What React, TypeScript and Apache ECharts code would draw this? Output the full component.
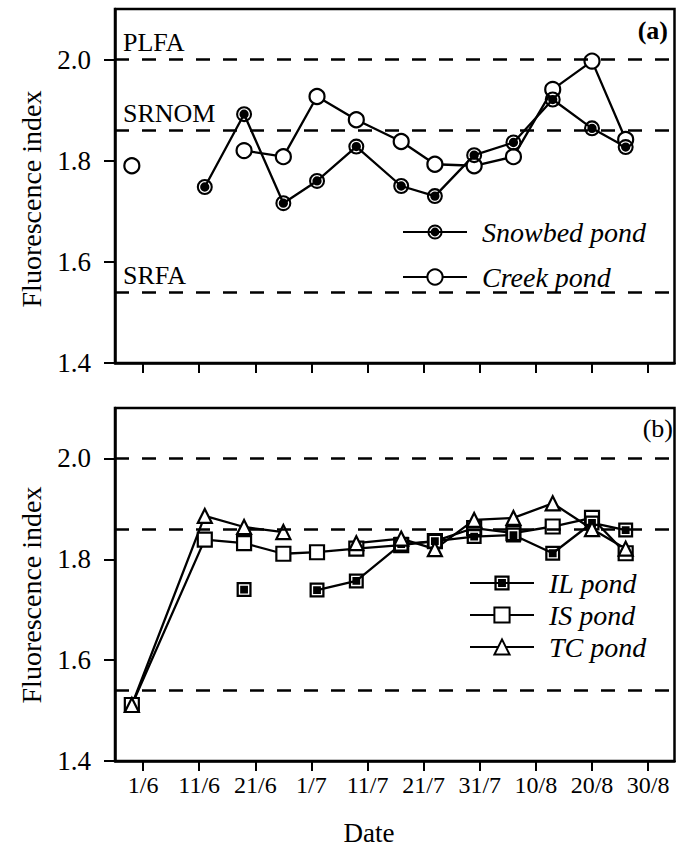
import React, { useEffect, useRef } from 'react';
import * as echarts from 'echarts';

// ---- data ----
const tickLabels = ['1/6', '11/6', '21/6', '1/7', '11/7', '21/7', '31/7', '10/8', '20/8', '30/8'];
const sampleDates = ['30/5', '12/6', '19/6', '26/6', '2/7', '9/7', '17/7', '23/7', '30/7', '6/8', '13/8', '20/8', '26/8'];
const snowbedPond = [null, 1.748, 1.892, 1.716, 1.76, 1.828, 1.75, 1.73, 1.811, 1.836, 1.921, 1.864, 1.827];
const creekPond = [1.79, null, 1.82, 1.808, 1.927, 1.881, 1.838, 1.793, 1.79, 1.808, 1.941, 1.997, 1.842];
const ilPond = [null, null, 1.74, null, 1.739, 1.757, 1.83, 1.836, 1.845, 1.848, 1.812, 1.872, 1.858];
const isPond = [1.511, 1.839, 1.832, 1.811, 1.814, 1.821, 1.828, 1.836, 1.862, 1.852, 1.865, 1.882, 1.812];
const tcPond = [1.511, 1.886, 1.864, 1.854, null, 1.832, 1.841, 1.82, 1.878, 1.882, 1.911, 1.86, 1.821];
const refValues = [2.0, 1.86, 1.54];
const refNames = ['PLFA', 'SRNOM', 'SRFA'];
const yTicks = [1.4, 1.6, 1.8, 2.0];

// days since 1 June
const monthStart: Record<number, number> = { 5: -31, 6: 0, 7: 30, 8: 61, 9: 92 };
const dayOf = (s: string) => {
  const [d, m] = s.split('/').map(Number);
  return monthStart[m] + d - 1;
};
const tickDays = tickLabels.map(dayOf);
const pairs = (vals: (number | null)[]) => sampleDates.map((d, i) => [dayOf(d), vals[i] === null ? '-' : vals[i]]);

const FONT = '"Liberation Serif", "DejaVu Serif", serif';
const ringDot =
  'path://M0,10A10,10,0,1,1,20,10A10,10,0,1,1,0,10ZM2.6,10A7.4,7.4,0,1,0,17.4,10A7.4,7.4,0,1,0,2.6,10ZM4.2,10A5.8,5.8,0,1,1,15.8,10A5.8,5.8,0,1,1,4.2,10Z';
const squareDot = 'path://M0,0H20V20H0ZM3,3V17H17V3ZM4.8,4.8H15.2V15.2H4.8Z';

export default function App() {
  const ref = useRef<HTMLDivElement>(null);
  useEffect(() => {
    if (!ref.current) return;
    const chart = echarts.init(ref.current, null, { renderer: 'svg' });
    const xAxisBase = (gridIndex: number, showLabels: boolean) => ({
      type: 'value',
      gridIndex,
      min: -5,
      max: 94.7,
      splitLine: { show: false },
      axisLine: { show: true, onZero: false, lineStyle: { color: '#000', width: 2.5 } },
      axisTick: { show: true, inside: false, length: 10, customValues: tickDays, lineStyle: { color: '#000', width: 2 } },
      axisLabel: {
        show: showLabels,
        customValues: tickDays,
        formatter: (v: number) => tickLabels[tickDays.indexOf(Math.round(v))] ?? '',
        fontFamily: FONT,
        fontSize: 24,
        color: '#000',
        margin: 12,
      },
    });
    const yAxisBase = (gridIndex: number) => ({
      type: 'value',
      gridIndex,
      min: 1.4,
      max: 2.1,
      splitLine: { show: false },
      axisLine: { show: true, onZero: false, lineStyle: { color: '#000', width: 2.5 } },
      axisTick: { show: true, inside: false, length: 11, customValues: yTicks, lineStyle: { color: '#000', width: 2 } },
      axisLabel: {
        customValues: yTicks,
        formatter: (v: number) => v.toFixed(1),
        fontFamily: FONT,
        fontSize: 27,
        color: '#000',
        margin: 24,
      },
    });
    const refLines = (withLabels: boolean) => ({
      silent: true,
      symbol: ['none', 'none'],
      lineStyle: { type: [14, 13], color: '#000', width: 2.5 },
      label: {
        show: withLabels,
        position: 'insideStartTop',
        formatter: '{b}',
        fontFamily: FONT,
        fontSize: 26,
        color: '#000',
        distance: [8, 4],
      },
      emphasis: { disabled: true },
      data: refValues.map((v, i) => ({ yAxis: v, name: refNames[i] })),
    });
    const lineSeries = (name: string, data: any[], gi: number, symbol: string, size: number, filled: boolean, extra: any = {}) => ({
      type: 'line',
      name,
      xAxisIndex: gi,
      yAxisIndex: gi,
      data,
      symbol,
      symbolSize: size,
      showSymbol: true,
      connectNulls: false,
      lineStyle: { color: '#000', width: 2.3 },
      itemStyle: filled
        ? { color: '#000', borderWidth: 0 }
        : { color: '#fff', borderColor: '#000', borderWidth: 2.2 },
      emphasis: { disabled: true },
      ...extra,
    });
    const legendBase = {
      orient: 'vertical',
      itemWidth: 64,
      itemHeight: 19,
      padding: 0,
      selectedMode: false,
      textStyle: { fontFamily: FONT, fontStyle: 'italic', fontSize: 28, color: '#000', padding: [0, 0, 0, 10] },
    };
    chart.setOption({
      animation: false,
      backgroundColor: '#fff',
      grid: [
        { left: 115, top: 9, width: 559.5, height: 354, show: true, borderColor: '#000', borderWidth: 2.5, containLabel: false },
        { left: 115, top: 408, width: 559.5, height: 353, show: true, borderColor: '#000', borderWidth: 2.5, containLabel: false },
      ],
      xAxis: [xAxisBase(0, false), xAxisBase(1, true)],
      yAxis: [yAxisBase(0), yAxisBase(1)],
      legend: [
        { ...legendBase, data: ['Snowbed pond', 'Creek pond'], left: 402, top: 218, itemGap: 17 },
        { ...legendBase, data: ['IL pond', 'IS pond', 'TC pond'], left: 469, top: 569, itemGap: 4 },
      ],
      series: [
        lineSeries('Creek pond', pairs(creekPond), 0, 'circle', 15, false, { markLine: refLines(true) }),
        lineSeries('Snowbed pond', pairs(snowbedPond), 0, ringDot, 16, true),
        lineSeries('IS pond', pairs(isPond), 1, 'rect', 14, false, { markLine: refLines(false) }),
        lineSeries('IL pond', pairs(ilPond), 1, squareDot, 15, true),
        lineSeries('TC pond', pairs(tcPond), 1, 'triangle', 14, false),
      ],
      graphic: [
        {
          type: 'text', x: 31, y: 199, rotation: Math.PI / 2,
          style: { text: 'Fluorescence index', font: `28px ${FONT}`, fill: '#000', align: 'center', verticalAlign: 'middle' },
        },
        {
          type: 'text', x: 31, y: 595, rotation: Math.PI / 2,
          style: { text: 'Fluorescence index', font: `28px ${FONT}`, fill: '#000', align: 'center', verticalAlign: 'middle' },
        },
        {
          type: 'text', x: 369, y: 833,
          style: { text: 'Date', font: `27px ${FONT}`, fill: '#000', align: 'center', verticalAlign: 'middle' },
        },
        {
          type: 'text', x: 668, y: 30,
          style: { text: '(a)', font: `bold 26px ${FONT}`, fill: '#000', align: 'right', verticalAlign: 'middle' },
        },
        {
          type: 'text', x: 673, y: 428,
          style: { text: '(b)', font: `26px ${FONT}`, fill: '#000', align: 'right', verticalAlign: 'middle' },
        },
      ],
    });
    return () => chart.dispose();
  }, []);
  return <div ref={ref} style={{ position: 'absolute', left: 0, top: 0, width: 678, height: 850 }} />;
}
